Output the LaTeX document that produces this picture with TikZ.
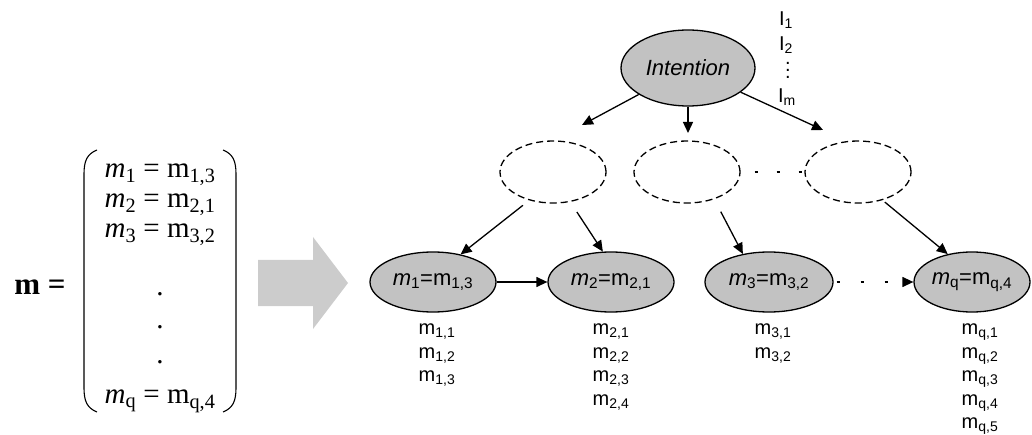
\documentclass[tikz,border=0pt]{standalone}
\usepackage{fontspec}
\setmainfont{Liberation Serif}
\setsansfont{Liberation Sans}
\usetikzlibrary{shapes.geometric,positioning,arrows.meta}

\begin{document}
\begin{tikzpicture}[
    x=1pt, y=-1pt,
    >={Triangle[length=11pt,width=10pt]},
    gnode/.style={ellipse, draw, line width=1.3pt, fill=black!24, inner sep=0pt,
                  minimum width=126pt, minimum height=60pt,
                  font=\sffamily\fontsize{22}{26}\selectfont},
    hnode/.style={ellipse, draw, dash pattern=on 7pt off 4pt, line width=1.3pt,
                  minimum width=106pt, minimum height=62pt},
    lbl/.style={font=\sffamily\fontsize{20}{23.5}\selectfont, align=center, inner sep=0pt},
    ilbl/.style={font=\sffamily\fontsize{20}{22}\selectfont, inner sep=0pt},
    arr/.style={->, line width=1.3pt},
    paren/.style={line width=1.1pt}
]
    \useasboundingbox (0,0) rectangle (1032,435);

    % vector m on the left
    \node (mname) at (40,287) {\fontsize{31}{34}\selectfont\textbf{m =}};
    \node (mvec) at (160,285) {\fontsize{29}{30}\selectfont\begin{tabular}{c}
        \textit{m}\textsubscript{1} = m\textsubscript{1,3}\\
        \textit{m}\textsubscript{2} = m\textsubscript{2,1}\\
        \textit{m}\textsubscript{3} = m\textsubscript{3,2}\\[28pt]
        .\\[3pt]
        .\\[5pt]
        .\\[10pt]
        \textit{m}\textsubscript{q} = m\textsubscript{q,4}
    \end{tabular}};
    \draw[paren] (97,150) .. controls (87,154) and (84,161) .. (84,174)
        -- (84,388) .. controls (84,401) and (87,408) .. (97,412);
    \draw[paren] (223,150) .. controls (233,154) and (236,161) .. (236,174)
        -- (236,388) .. controls (236,401) and (233,408) .. (223,412);

    % big gray arrow
    \fill[black!20] (258,260) -- (313,260) -- (313,237) -- (348,283)
        -- (313,329) -- (313,306) -- (258,306) -- cycle;

    % intention and hidden layer
    \node[gnode, minimum width=134pt, minimum height=76pt] (int) at (688,68) {\textit{Intention}};
    \node[ilbl] (i1) at (786,20) {I\textsubscript{1}};
    \node[ilbl] (i2) at (786,45) {I\textsubscript{2}};
    \node[ilbl] (idots) at (788,70) {\vbox{\baselineskip=7pt\lineskiplimit=-5pt\hbox{.}\hbox{.}\hbox{.}}};
    \node[ilbl] (im) at (787,97) {I\textsubscript{m}};

    \node[hnode] (h1) at (553,172) {};
    \node[hnode] (h2) at (687,172) {};
    \node[hnode] (h3) at (858,172) {};
    \draw[line width=1.3pt, dash pattern=on 3pt off 19pt, shorten <=14pt] (h2.east) -- (h3.west);

    \coordinate (a1) at (582,125);
    \coordinate (a2) at (688,133);
    \coordinate (a3) at (823,130);
    \draw[arr] (int) -- (a1);
    \draw[arr] (int) -- (a2);
    \draw[arr] (int) -- (a3);

    % mention nodes
    \node[gnode] (m1) at (433,282) {\textit{m}\textsubscript{1}=m\textsubscript{1,3}};
    \node[gnode] (m2) at (611,282) {\textit{m}\textsubscript{2}=m\textsubscript{2,1}};
    \node[gnode, minimum width=128pt] (m3) at (769,282) {\textit{m}\textsubscript{3}=m\textsubscript{3,2}};
    \node[gnode, minimum width=116pt] (mq) at (972,282) {\textit{m}\textsubscript{q}=m\textsubscript{q,4}};

    \draw[arr, shorten <=8pt] (h1.230) -- (m1.45);
    \draw[arr, shorten <=12pt] (h1.300) -- (m2.105);
    \draw[arr, shorten <=14pt] (h2.315) -- (m3.133);
    \draw[arr, shorten <=3pt] (h3.311) -- (mq.131);
    \draw[arr] (m1) -- (m2);
    \draw[arr, dash pattern=on 3pt off 21pt, shorten <=3pt] (m3) -- (mq);

    % candidate lists
    \node[lbl, below=11pt of m1, xshift=4pt] (m1lst) {m\textsubscript{1,1}\\m\textsubscript{1,2}\\m\textsubscript{1,3}};
    \node[lbl, below=11pt of m2] (m2lst) {m\textsubscript{2,1}\\m\textsubscript{2,2}\\m\textsubscript{2,3}\\m\textsubscript{2,4}};
    \node[lbl, below=11pt of m3, xshift=4pt] (m3lst) {m\textsubscript{3,1}\\m\textsubscript{3,2}};
    \node[lbl, below=11pt of mq, xshift=8pt] (mqlst) {m\textsubscript{q,1}\\m\textsubscript{q,2}\\m\textsubscript{q,3}\\m\textsubscript{q,4}\\m\textsubscript{q,5}};
\end{tikzpicture}
\end{document}
